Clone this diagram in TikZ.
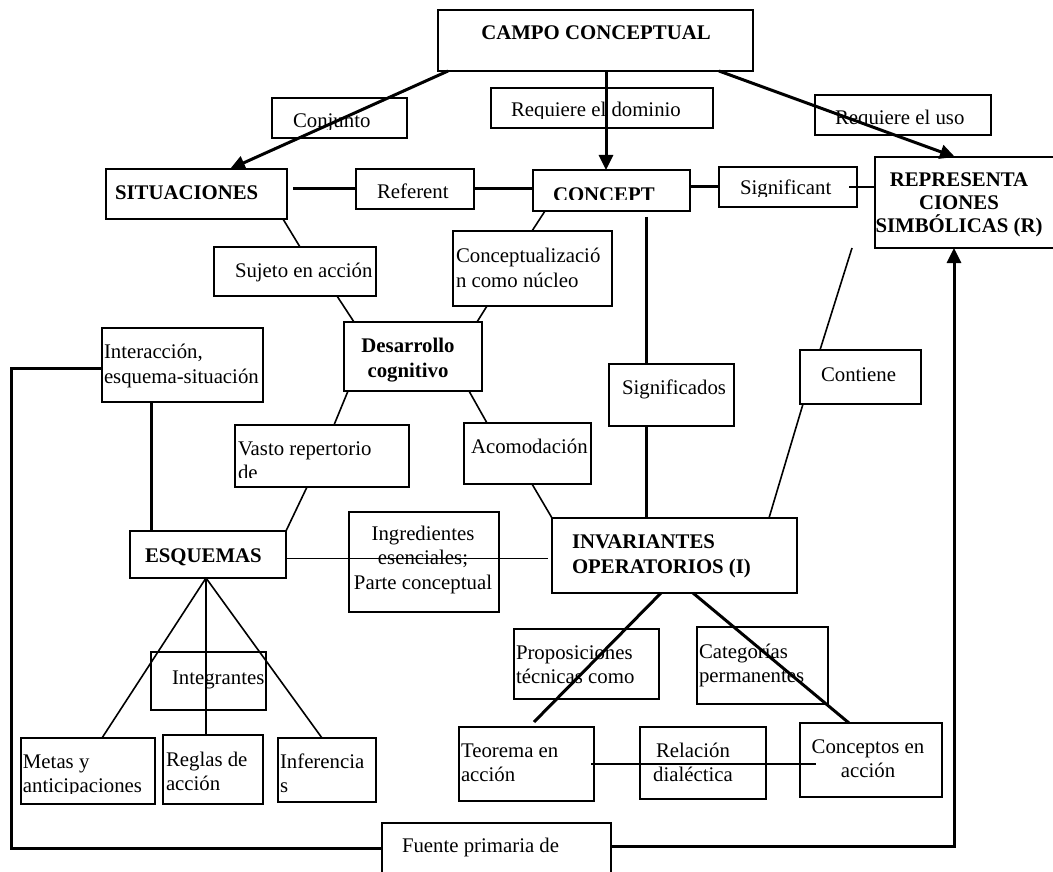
\documentclass[tikz,border=0pt]{standalone}
\usepackage{fontspec}
\setmainfont{Liberation Serif}
\usetikzlibrary{arrows.meta,calc}

\newcommand{\letra}{\fontsize{20.8}{24.5}\selectfont}
% box with its text clipped a little above the lower border
% (text position = baseline of the last line)
\newcommand{\caja}[9][]{%
  \node[caja, minimum width=#5pt, minimum height=#6pt,
    path picture={
      \clip ([yshift=#7pt]path picture bounding box.south west) rectangle (path picture bounding box.north east);
      \node[texto,#1] at ([shift={(#8)}]path picture bounding box.north west) {#9};
    }] (#2) at (#3,#4) {};}

\begin{document}
\begin{tikzpicture}[x=1pt, y=-1pt,
  caja/.style={draw, line width=1.6pt, anchor=north west, inner sep=0pt, outer sep=0pt},
  texto/.style={anchor=base west, align=left, inner sep=0pt, draw=none, minimum width=0pt, minimum height=0pt, font=\letra, path picture={}},
  centro/.style={anchor=base, align=center},
  negrita/.style={font=\letra\bfseries},
  linea/.style={line width=1.6pt},
  gruesa/.style={line width=3pt},
  flecha/.style={gruesa, -{Triangle[length=15pt,width=14pt]}}]
\useasboundingbox (0,0) rectangle (1053,872);
\clip (0,0) rectangle (1053,872);

\caja[negrita, centro]{campo}{438}{10}{315}{61}{9}{158,30}{CAMPO CONCEPTUAL}
\caja{conj}{272}{98}{135}{40}{8}{21,30}{Conjunto}
\caja{dominio}{491}{88}{222}{40}{9}{20,29}{Requiere el dominio}
\caja{uso}{815}{95}{176}{40}{9}{20,30}{Requiere el uso}

\caja[negrita]{sit}{106}{169}{181}{50}{9}{9,31}{SITUACIONES}
\caja{ref}{356}{169}{118}{40}{9}{21,30}{Referent}
\caja[negrita]{concept}{533}{170}{157}{41}{11}{20,31}{CONCEPT}
\caja{signif}{719}{167}{138}{40}{10}{21,28}{Significant}
\caja[centro, font=\fontsize{20.8}{23}\selectfont\bfseries]{repr}{875}{157}{200}{91}{9}{84,76}{REPRESENTA\\CIONES\\SIMBÓLICAS (R)}

\caja{conc}{453}{231}{159}{75}{9}{3,56}{Conceptualizació\\n como núcleo}
\caja{sujeto}{214}{247}{162}{49}{9}{21,30}{Sujeto en acción}
\caja[negrita, centro]{desa}{344}{322}{138}{69}{9}{64,55}{Desarrollo\\cognitivo}
\caja{inter}{102}{328}{161}{74}{9}{2,55}{Interacción,\\esquema-situación}
\caja{sigdos}{609}{364}{125}{62}{9}{13,30}{Significados}
\caja{cont}{800}{350}{121}{54}{9}{21,31}{Contiene}
\caja{vasto}{235}{425}{174}{62}{10}{3,54.5}{Vasto repertorio\\de}
\caja{acom}{464}{423}{127}{61}{9}{7,30}{Acomodación}

\caja[negrita]{esq}{130}{531}{156}{47}{9}{15,31}{ESQUEMAS}
\caja[centro]{ingr}{349}{512}{150}{100}{9}{74,77}{Ingredientes\\esenciales;\\Parte conceptual}
\caja[negrita]{inv}{552}{518}{245}{75}{9}{20,55}{INVARIANTES\\OPERATORIOS (I)}

\caja{integ}{151}{652}{115}{58}{9}{21,32}{Integrantes}
\caja{metas}{21}{738}{134}{66}{11}{2,54.5}{Metas y\\anticipaciones}
\caja{reglas}{163}{735}{100}{69}{9}{3,55.5}{Reglas de\\acción}
\caja{infer}{278}{738}{98}{64}{9}{2,54.5}{Inferencia\\s}
\caja{prop}{514}{629}{145}{70}{9}{2,54.5}{Proposiciones\\técnicas como}
\caja{categ}{697}{627}{131}{77}{9}{2,55.5}{Categorías\\permanentes}
\caja{teor}{459}{727}{135}{74}{9}{2,54.5}{Teorema en\\acción}
\caja[centro]{rel}{640}{727}{126}{72}{9}{53,54.5}{Relación\\dialéctica}
\caja[centro]{concac}{800}{723}{142}{74}{9}{68,54.5}{Conceptos en\\acción}
\caja{fuente}{382}{823}{229}{60}{9}{20,29}{Fuente primaria de}

\draw[flecha] ([xshift=10pt]campo.south west) -- ([xshift=124pt]sit.north west);
\draw[flecha] ([xshift=168pt]campo.south west) -- ([xshift=73pt]concept.north west);
\draw[flecha] ([xshift=281pt]campo.south west) -- ([xshift=80pt]repr.north west);

\draw[gruesa] ($(sit.east |- ref.west)+(6,0)$) -- (ref.west);
\draw[gruesa] (ref.east) -- (ref.east -| concept.west);
\draw[gruesa] (signif.west) -- (signif.west -| concept.east);
\draw[linea] ([xshift=-8pt]signif.east) -- (signif.east -| repr.west);

\draw[linea] ([xshift=-4pt]sit.south east) -- ([xshift=86pt]sujeto.north west);
\draw[linea] ([xshift=12pt]concept.south west) -- ([xshift=79pt]conc.north west);
\draw[linea] ([xshift=123pt]sujeto.south west) -- ([xshift=10pt]desa.north west);
\draw[linea] ([xshift=34pt]conc.south west) -- ([xshift=-5pt]desa.north east);
\draw[linea] ([xshift=4pt]desa.south west) -- ([xshift=99pt]vasto.north west);
\draw[linea] ([xshift=-13pt]desa.south east) -- ([xshift=23pt]acom.north west);
\draw[linea] ([xshift=72pt]vasto.south west) -- (esq.north east);
\draw[linea] ([xshift=68pt]acom.south west) -- (inv.north west);
\draw[gruesa] ([xshift=49pt]inter.south west) -- ([xshift=21pt]esq.north west);
\draw[linea] ([yshift=-4pt]esq.east) -- ($(esq.east -| inv.west)+(-4,4)$);

\draw[gruesa] ($(concept.south west)+(113,6)$) -- ([xshift=37pt]sigdos.north west);
\draw[gruesa] ([xshift=37pt]sigdos.south west) -- ([xshift=94pt]inv.north west);
\draw[linea] ([xshift=-23pt]repr.south west) -- ([xshift=20pt]cont.north west);
\draw[linea] ([xshift=3pt]cont.south west) -- ([xshift=-28pt]inv.north east);

\draw[gruesa] ([xshift=109pt]inv.south west) -- ($(teor.north west)+(75,-5)$);
\draw[gruesa] ([xshift=141pt]inv.south west) -- ([xshift=49pt]concac.north west);
\draw[linea] ([xshift=-3pt]teor.east) -- ($(teor.east -| concac.west)+(16,0)$);

\foreach \hoja/\dx in {metas/81, reglas/43, infer/44}
  \draw[linea] ([xshift=76pt]esq.south west) -- ([xshift=\dx pt]\hoja.north west);

\coordinate (esquina) at (11,368);
\draw[gruesa] ([yshift=-25pt]fuente.north west) -| (esquina) -- (esquina -| inter.west);
\draw[flecha] ([yshift=-23pt]fuente.north east) -| ([xshift=79pt]repr.south west);

\end{tikzpicture}
\end{document}
